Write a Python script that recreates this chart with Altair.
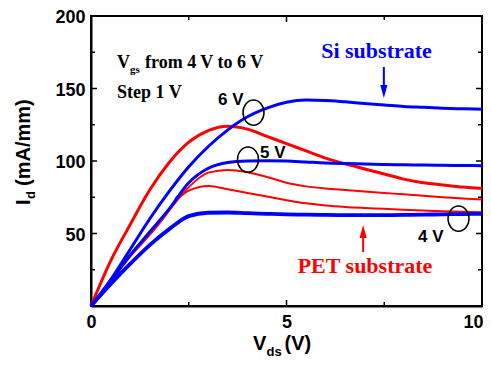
import altair as alt
import pandas as pd

# ---- data ----
vds = [0, 0.5, 1, 1.5, 2, 2.5, 3, 3.5, 4, 4.5, 5, 5.5, 6, 6.5, 7, 7.5, 8, 8.5, 9, 9.5, 10]
si_6v = [0, 18, 39, 60, 79, 96, 110, 121.5, 130.5, 136.5, 140.5, 142, 141.8, 140.8, 139.6, 138.6, 137.6, 137, 136.4, 136, 135.7]
si_5v = [0, 17, 35, 51, 67, 85, 95, 99, 100, 100.2, 100, 99.3, 98.6, 98.2, 97.9, 97.6, 97.4, 97.2, 97, 96.9, 96.8]
si_4v = [0, 15, 29, 42, 53, 62, 64.3, 64.5, 64, 63.6, 63.2, 63, 62.8, 62.7, 62.7, 62.7, 62.8, 63, 63.2, 63.4, 63.6]
pet_6v = [0, 31, 56, 80, 99, 113, 121, 124, 122, 117, 112, 107, 102, 98, 94.5, 91, 87.5, 85, 83.5, 82, 81]
pet_5v = [0, 17, 35, 50, 66, 82, 92, 93.8, 92.3, 89, 85, 82.5, 81, 80, 79, 78, 77, 76, 75, 74.2, 73.5]
pet_4v_vds = [0, 0.5, 1, 1.5, 2, 2.15, 2.2, 2.25, 2.35, 2.5, 2.8, 3.0, 3.5, 4, 4.5, 5, 5.5, 6, 6.5, 7, 7.5, 8, 8.5, 9, 9.5, 10]
pet_4v = [0, 17, 34, 49, 66, 72.5, 75.5, 75, 77, 79.5, 82.3, 82.8, 80.5, 78, 75.5, 73, 70.8, 69.3, 68.3, 67.6, 67, 66.3, 65.8, 65.3, 65, 64.6]

x_labels = [0, 5, 10]
y_labels = [50, 100, 150, 200]
x_major = [5]
x_minor = [2.5, 7.5]
y_major = [50, 100, 150]
y_minor = [25, 75, 125, 175]

BLUE = "#0000ff"
RED = "#ff0000"
SERIF = "Liberation Serif"
SANS = "Liberation Sans"

curves = [
    ("a PET 6 V", vds, pet_6v, RED, 3.0),
    ("b PET 5 V", vds, pet_5v, RED, 2.0),
    ("c PET 4 V", pet_4v_vds, pet_4v, RED, 2.0),
    ("d Si 6 V", vds, si_6v, BLUE, 3.0),
    ("e Si 5 V", vds, si_5v, BLUE, 3.0),
    ("f Si 4 V", vds, si_4v, BLUE, 3.8),
]
rows = []
for name, xs_, ys_, col, w in curves:
    for xv, yv in zip(xs_, ys_):
        rows.append({"vds": xv, "id": yv, "curve": name, "col": col, "w": w})
df = pd.DataFrame(rows)

xs = alt.Scale(domain=[0, 10], nice=False, zero=False)
ys = alt.Scale(domain=[0, 200], nice=False, zero=False)
ax_x = alt.Axis(values=x_labels, title=None, format="d", labelPadding=7, tickSize=0, ticks=False,
                grid=False, labelFlush=False,
                labelOffset={"condition": {"test": "datum.value == 10", "value": -9}, "value": 0})
ax_y = alt.Axis(values=y_labels, title=None, format="d", labelPadding=6, tickSize=0, ticks=False,
                grid=False, labelOffset=1.5)

W, H = 391, 290


def X(f):
    return alt.X(f, scale=xs, axis=ax_x)


def Y(f):
    return alt.Y(f, scale=ys, axis=ax_y)


lines = alt.Chart(df).mark_line(interpolate="monotone").encode(
    x=X("vds:Q"),
    y=Y("id:Q"),
    detail="curve:N",
    color=alt.Color("col:N", scale=None),
    strokeWidth=alt.StrokeWidth("w:Q", scale=None),
)


def tick_layer(vals, orient, length):
    d = pd.DataFrame({"vds": vals, "id": vals})
    base = alt.Chart(d).mark_rule(color="black", strokeWidth=1.5)
    if orient == "bottom":
        return base.encode(x=X("vds:Q"), y=alt.value(H), y2=alt.value(H - length))
    if orient == "top":
        return base.encode(x=X("vds:Q"), y=alt.value(0), y2=alt.value(length))
    if orient == "left":
        return base.encode(y=Y("id:Q"), x=alt.value(0), x2=alt.value(length))
    return base.encode(y=Y("id:Q"), x=alt.value(W), x2=alt.value(W - length))


ticks = []
for o in ["bottom", "top"]:
    ticks.append(tick_layer(x_major, o, 6))
    ticks.append(tick_layer(x_minor, o, 4))
for o in ["left", "right"]:
    ticks.append(tick_layer(y_major, o, 6))
    ticks.append(tick_layer(y_minor, o, 4))


def txt(label, x, y, size, font, color="black", align="left", angle=None):
    d = pd.DataFrame({"vds": [x], "id": [y], "t": [label]})
    kw = dict(align=align, baseline="alphabetic", fontSize=size, font=font,
              fontWeight="bold", color=color)
    if angle is not None:
        kw["angle"] = angle
    return alt.Chart(d).mark_text(**kw).encode(x=X("vds:Q"), y=Y("id:Q"), text="t:N")


texts = [
    txt("V", 0.665, 164.1, 18, SERIF),
    txt("gs", 0.997, 160.7, 11, SERIF),
    txt("from 4 V to 6 V", 1.381, 164.1, 18, SERIF),
    txt("Step 1 V", 0.665, 143.4, 18, SERIF),
    txt("6 V", 3.248, 138.6, 17, SANS),
    txt("5 V", 4.322, 102.1, 17, SANS),
    txt("4 V", 8.363, 44.1, 17, SANS),
    txt("Si substrate", 7.302, 171.0, 22, SERIF, BLUE, "center"),
    txt("PET substrate", 7.008, 22.8, 22, SERIF, RED, "center"),
    # axis titles
    txt("V", 4.143, -30.5, 20, SANS),
    txt("ds", 4.49, -34.3, 13, SANS),
    txt("(V)", 4.95, -30.5, 20, SANS),
    txt("I", -1.56, 69.7, 20, SANS, angle=270),
    txt("d", -1.44, 73.8, 13, SANS, angle=270),
    txt("(mA/mm)", -1.56, 82.8, 20, SANS, angle=270),
]

# arrows
arrow_shafts = []
for (ax, y1, y2, col) in [(7.49, 164.8, 149.0, BLUE), (6.96, 37.2, 50.0, RED)]:
    d = pd.DataFrame({"vds": [ax], "id": [y1], "id2": [y2]})
    arrow_shafts.append(alt.Chart(d).mark_rule(color=col, strokeWidth=2).encode(
        x=X("vds:Q"), y=Y("id:Q"), y2="id2:Q"))

TRI_DOWN = "M-0.55,-1 L0.55,-1 L0,1 Z"
TRI_UP = "M-0.55,1 L0.55,1 L0,-1 Z"
heads = [
    alt.Chart(pd.DataFrame({"vds": [7.49], "id": [147.9]})).mark_point(
        shape=TRI_DOWN, size=169, filled=True, color=BLUE, opacity=1).encode(
        x=X("vds:Q"), y=Y("id:Q")),
    alt.Chart(pd.DataFrame({"vds": [6.96], "id": [51.4]})).mark_point(
        shape=TRI_UP, size=169, filled=True, color=RED, opacity=1).encode(
        x=X("vds:Q"), y=Y("id:Q")),
]

ELLIPSE = ("M0,-1.2 C0.5523,-1.2 1,-0.6628 1,0 C1,0.6628 0.5523,1.2 0,1.2 "
           "C-0.5523,1.2 -1,0.6628 -1,0 C-1,-0.6628 -0.5523,-1.2 0,-1.2 Z")
ell_x = [4.156, 4.015, 9.399]
ell_y = [133.4, 101.0, 60.3]
ellipses = alt.Chart(pd.DataFrame({"vds": ell_x, "id": ell_y})).mark_point(
    shape=ELLIPSE, size=441, filled=False, color="black", strokeWidth=1.5, opacity=1).encode(
    x=X("vds:Q"), y=Y("id:Q"))

chart = alt.layer(lines, *ticks, *arrow_shafts, *heads, ellipses, *texts).properties(
    width=W, height=H,
    autosize="none",
    padding={"left": 83, "top": 8, "right": 1, "bottom": 54},
).configure_view(stroke="black", strokeWidth=2).configure_axis(
    domainColor="black", domainWidth=2, grid=False,
    labelFont=SANS, labelFontSize=18, labelFontWeight="bold", labelColor="black",
)

chart.save("out.html", embed_options={"renderer": "svg", "actions": False})
